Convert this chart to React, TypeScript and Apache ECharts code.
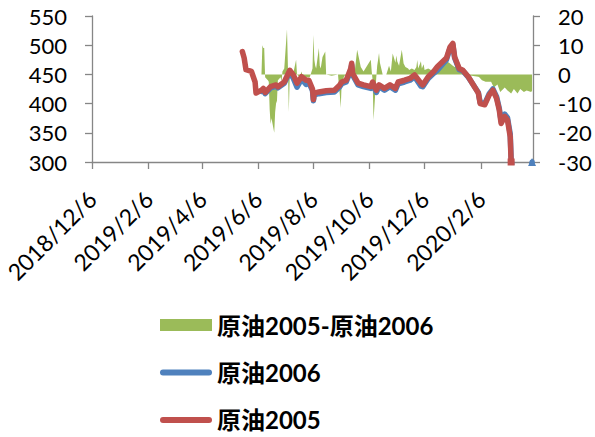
import React, { useEffect, useRef } from 'react';
import * as echarts from 'echarts';

const seriesNames = ['原油2005-原油2006', '原油2006', '原油2005'];

const tickDates = ['2018-12-06', '2019-02-06', '2019-04-06', '2019-06-06', '2019-08-06', '2019-10-06', '2019-12-06', '2020-02-06'];
const axisStart = '2018-12-06';
const axisEnd = '2020-04-03';

const leftTicks = { min: 300, max: 550, interval: 50 };
const rightTicks = { min: -30, max: 20, interval: 10 };

const redDates = ['2019-05-20', '2019-05-22', '2019-05-24', '2019-05-30', '2019-06-03', '2019-06-04', '2019-06-10', '2019-06-12', '2019-06-14', '2019-06-20', '2019-06-26', '2019-06-28', '2019-07-05', '2019-07-11', '2019-07-15', '2019-07-19', '2019-07-24', '2019-07-29', '2019-08-01', '2019-08-05', '2019-08-06', '2019-08-07', '2019-08-12', '2019-08-20', '2019-08-29', '2019-09-04', '2019-09-06', '2019-09-11', '2019-09-16', '2019-09-17', '2019-09-18', '2019-09-24', '2019-09-30', '2019-10-08', '2019-10-10', '2019-10-14', '2019-10-17', '2019-10-23', '2019-10-29', '2019-11-01', '2019-11-04', '2019-11-07', '2019-11-14', '2019-11-20', '2019-11-25', '2019-12-02', '2019-12-04', '2019-12-10', '2019-12-16', '2019-12-20', '2019-12-26', '2019-12-30', '2020-01-03', '2020-01-06', '2020-01-08', '2020-01-13', '2020-01-17', '2020-01-23', '2020-02-03', '2020-02-05', '2020-02-10', '2020-02-15', '2020-02-19', '2020-02-23', '2020-02-26', '2020-02-28', '2020-03-03', '2020-03-06', '2020-03-09', '2020-03-10'];
const redValues = [489, 478, 458, 455, 437, 418, 423, 426, 419, 429, 432, 429, 437, 457, 449, 435, 446, 440, 440, 425, 407, 418, 420, 422, 423, 432, 437, 440, 460, 469, 452, 435, 432, 429, 437, 423, 432, 426, 432, 429, 426, 437, 440, 443, 449, 435, 432, 446, 455, 463, 472, 478, 497, 503, 480, 460, 457, 446, 418, 400, 398, 415, 423, 409, 389, 366, 378, 372, 343, 300];

const blueDates = ['2019-06-10', '2019-06-12', '2019-06-14', '2019-06-20', '2019-06-26', '2019-06-28', '2019-07-05', '2019-07-11', '2019-07-15', '2019-07-19', '2019-07-24', '2019-07-29', '2019-08-01', '2019-08-05', '2019-08-06', '2019-08-07', '2019-08-12', '2019-08-20', '2019-08-29', '2019-09-04', '2019-09-06', '2019-09-11', '2019-09-16', '2019-09-17', '2019-09-18', '2019-09-24', '2019-09-30', '2019-10-08', '2019-10-10', '2019-10-14', '2019-10-17', '2019-10-23', '2019-10-29', '2019-11-01', '2019-11-04', '2019-11-07', '2019-11-14', '2019-11-20', '2019-11-25', '2019-12-02', '2019-12-04', '2019-12-10', '2019-12-16', '2019-12-20', '2019-12-26', '2019-12-30', '2020-01-03', '2020-01-06', '2020-01-08', '2020-01-13', '2020-01-17', '2020-01-23', '2020-02-03', '2020-02-05', '2020-02-10', '2020-02-15', '2020-02-19', '2020-02-23', '2020-02-26', '2020-02-28', '2020-03-03', '2020-03-06', '2020-03-09', '2020-03-10', '2020-03-12', '2020-03-16', '2020-03-19', '2020-03-23', '2020-03-26', '2020-03-30', '2020-04-02'];
const blueValues = [421, 424, 417, 427, 430, 427, 435, 454, 443, 428, 442, 433, 436, 422, 405, 415, 417, 419, 420, 429, 434, 437, 457, 466, 449, 432, 429, 426, 434, 419, 429, 423, 429, 426, 423, 434, 437, 440, 446, 430, 429, 443, 452, 457, 468, 475, 495, 501, 478, 458, 456, 445, 419, 402, 400, 417, 425, 412, 392, 370, 382, 376, 348, 305, 280, 265, 250, 248, 255, 250, 300];

const spreadDates = ['2019-06-10', '2019-06-11', '2019-06-12', '2019-06-13', '2019-06-14', '2019-06-17', '2019-06-18', '2019-06-19', '2019-06-20', '2019-06-21', '2019-06-24', '2019-06-25', '2019-06-26', '2019-06-27', '2019-06-28', '2019-07-01', '2019-07-02', '2019-07-03', '2019-07-05', '2019-07-08', '2019-07-09', '2019-07-10', '2019-07-11', '2019-07-15', '2019-07-18', '2019-07-19', '2019-07-22', '2019-07-24', '2019-07-26', '2019-07-29', '2019-08-02', '2019-08-05', '2019-08-06', '2019-08-07', '2019-08-08', '2019-08-09', '2019-08-12', '2019-08-13', '2019-08-14', '2019-08-15', '2019-08-16', '2019-08-19', '2019-08-20', '2019-08-26', '2019-09-02', '2019-09-03', '2019-09-04', '2019-09-05', '2019-09-06', '2019-09-09', '2019-09-20', '2019-09-23', '2019-09-24', '2019-09-25', '2019-09-26', '2019-09-27', '2019-09-30', '2019-10-08', '2019-10-09', '2019-10-10', '2019-10-11', '2019-10-14', '2019-10-15', '2019-10-16', '2019-10-17', '2019-10-18', '2019-10-21', '2019-10-25', '2019-10-28', '2019-10-30', '2019-11-01', '2019-11-04', '2019-11-05', '2019-11-06', '2019-11-08', '2019-11-11', '2019-11-12', '2019-11-13', '2019-11-15', '2019-11-18', '2019-11-19', '2019-11-22', '2019-11-25', '2019-11-27', '2019-11-28', '2019-11-29', '2019-12-02', '2019-12-03', '2019-12-05', '2019-12-06', '2019-12-10', '2019-12-13', '2019-12-16', '2019-12-18', '2019-12-20', '2019-12-23', '2019-12-26', '2019-12-30', '2020-01-02', '2020-01-06', '2020-01-08', '2020-01-10', '2020-01-14', '2020-01-16', '2020-01-20', '2020-01-22', '2020-01-23', '2020-02-03', '2020-02-04', '2020-02-07', '2020-02-11', '2020-02-17', '2020-02-20', '2020-02-24', '2020-02-27', '2020-03-03', '2020-03-06', '2020-03-10', '2020-03-13', '2020-03-17', '2020-03-20', '2020-03-24', '2020-03-27', '2020-04-01', '2020-04-02'];
const spreadValues = [0, 10, 9, 9, -1, -2, -2.5, -12, -17, -15, -20, -13, -10, -9, -2, -1, -2.5, 1, 2, 15.5, 3, -13, -1, 0.5, 5, 0, -1, 1, -2, -1, -1, 2, 13.5, 5, 3, 2, 9, 3, 2, 4, 6, 7.8, 0, -0.5, 0, -4, -7, -11.5, -3, -0.5, 0, 8.4, 7, 5.5, 4, 2.5, 1, 5, 1, -2, -15.6, -1, 3, 5, 7.3, 4, 0, 0, 3, 1, 7.2, 4, 6.5, 4.5, 3, 8.4, 6.1, 3.7, 2.5, 2, 1.5, 2, 1.5, 2.5, 4.9, 2, 4.5, 2, 3.5, 1.5, 2, 1.5, 2, 2.5, 3.5, 3, 2.5, 4.5, 4, 3, 2.5, 2.5, 1, 0.5, 0.2, 0, -0.3, -0.8, -1, -2, -2.5, -2.5, -4.5, -3.5, -6, -4.5, -5.5, -6.5, -5, -6.5, -5, -6, -5.5, -6, -5.5];

const GREEN = '#9BBB59';
const BLUE = '#4F81BD';
const RED = '#C0504D';
const AXIS = '#868686';
const FONT = 'Lato';
const LINE_ICON = 'path://M3,0 L49,0 A3,3 0 0 1 49,6 L3,6 A3,3 0 0 1 3,0 Z';

function ts(s: string): number {
  const [y, m, d] = s.split('-').map(Number);
  return new Date(y, m - 1, d).getTime();
}
function fmt(v: number): string {
  const d = new Date(v);
  return `${d.getFullYear()}/${d.getMonth() + 1}/${d.getDate()}`;
}

export default function App() {
  const ref = useRef<HTMLDivElement>(null);
  useEffect(() => {
    document.body.style.margin = '0';
    if (!ref.current) return;
    const chart = echarts.init(ref.current, undefined, { renderer: 'svg' });
    const lastMarked = (dates: string[], vals: number[], symbol: string, size: number) =>
      dates.map((d, i) =>
        i === dates.length - 1
          ? { value: [ts(d), vals[i]], symbol, symbolSize: size }
          : [ts(d), vals[i]]
      );
    const tickTs = tickDates.map(ts);
    const axisLabelStyle = { color: '#000', fontSize: 22, fontFamily: FONT };
    chart.setOption({
      animation: false,
      grid: { left: 92, right: 62, top: 16, bottom: 275 },
      legend: {
        orient: 'vertical',
        left: 160,
        top: 313,
        padding: 0,
        itemGap: 23.5,
        itemWidth: 52,
        itemHeight: 12,
        textStyle: { fontSize: 24, fontWeight: 'bold', fontFamily: `${FONT}, "Noto Sans CJK SC"`, color: '#000' },
        data: [
          { name: seriesNames[0], icon: 'rect', itemStyle: { color: GREEN } },
          { name: seriesNames[1], icon: LINE_ICON, itemStyle: { color: BLUE, borderWidth: 0 } },
          { name: seriesNames[2], icon: LINE_ICON, itemStyle: { color: RED, borderWidth: 0 } },
        ],
      },
      xAxis: {
        type: 'value',
        min: ts(axisStart),
        max: ts(axisEnd),
        axisLine: { onZero: false, lineStyle: { color: AXIS, width: 1.3 } },
        axisTick: { show: true, length: 7, customValues: tickTs, lineStyle: { color: AXIS, width: 1.3 } },
        axisLabel: { color: '#000', fontFamily: FONT, fontSize: 23, customValues: tickTs, formatter: (v: number) => fmt(v), rotate: 45, margin: 33 },
        splitLine: { show: false },
      },
      yAxis: [
        {
          type: 'value',
          ...leftTicks,
          axisLine: { show: true, lineStyle: { color: AXIS, width: 1.3 } },
          axisTick: { show: true, length: 7, lineStyle: { color: AXIS, width: 1.3 } },
          axisLabel: { ...axisLabelStyle, margin: 25 },
          splitLine: { show: false },
        },
        {
          type: 'value',
          position: 'right',
          ...rightTicks,
          axisLine: { show: true, lineStyle: { color: AXIS, width: 1.3 } },
          axisTick: { show: true, length: 7, lineStyle: { color: AXIS, width: 1.3 } },
          axisLabel: { ...axisLabelStyle, margin: 25 },
          splitLine: { show: false },
        },
      ],
      series: [
        {
          name: seriesNames[0],
          type: 'line',
          yAxisIndex: 1,
          symbol: 'none',
          itemStyle: { color: GREEN },
          lineStyle: { width: 0, color: GREEN },
          areaStyle: { color: GREEN, opacity: 1 },
          data: spreadDates.map((d, i) => [ts(d), spreadValues[i]]),
        },
        {
          name: seriesNames[1],
          type: 'line',
          yAxisIndex: 0,
          symbol: 'none',
          showAllSymbol: true,
          itemStyle: { color: BLUE },
          lineStyle: { width: 5.5, color: BLUE, cap: 'round', join: 'round' },
          data: lastMarked(blueDates, blueValues, 'triangle', 8),
        },
        {
          name: seriesNames[2],
          type: 'line',
          yAxisIndex: 0,
          symbol: 'none',
          showAllSymbol: true,
          itemStyle: { color: RED },
          lineStyle: { width: 5.5, color: RED, cap: 'round', join: 'round' },
          data: lastMarked(redDates, redValues, 'rect', 7),
        },
      ],
    });
    return () => chart.dispose();
  }, []);
  return <div ref={ref} style={{ width: 595, height: 437 }} />;
}
